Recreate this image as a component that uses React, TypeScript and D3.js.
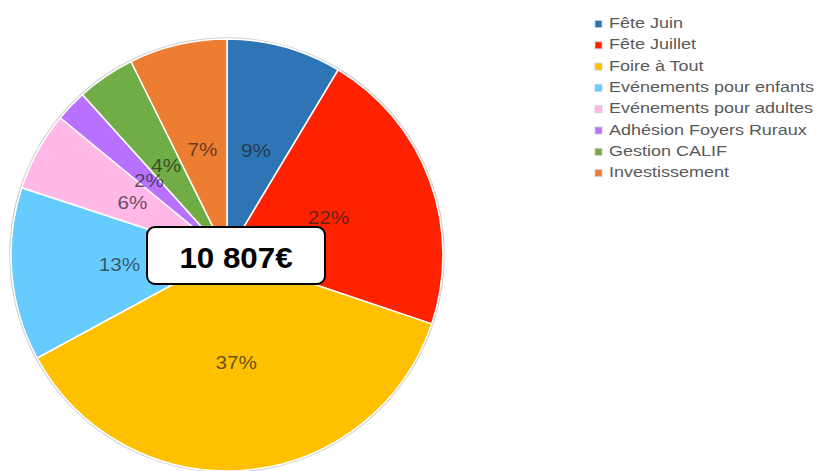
import React from "react";
import * as d3 from "d3";

const categories = [
  "Fête Juin",
  "Fête Juillet",
  "Foire à Tout",
  "Evénements pour enfants",
  "Evénements pour adultes",
  "Adhésion Foyers Ruraux",
  "Gestion CALIF",
  "Investissement",
];
const values = [930, 2330, 3990, 1400, 640, 255, 470, 792];
const colors = ["#2e75b6", "#ff2200", "#ffc000", "#66ccff", "#ffb8e8", "#b870ff", "#70ad47", "#ed7d31"];
const totalLabel = "10 807€";

const W = 819;
const H = 471;
const cx = 227;
const cy = 255;
const R = 216;

export default function App() {
  const total = d3.sum(values);
  const pie = d3.pie<number>().sort(null).value((d) => d);
  const arcs = pie(values);
  const arc = d3.arc<d3.PieArcDatum<number>>().innerRadius(0).outerRadius(R);
  const labelArc = d3.arc<d3.PieArcDatum<number>>().innerRadius(R / 2).outerRadius(R / 2);
  const fmt = (v: number) => `${Math.round((v / total) * 100)}%`;
  const legendX = 595;
  const legendY0 = 28;
  const legendStep = 21.3;

  return (
    <svg
      width={W}
      height={H}
      style={{ position: "absolute", left: 0, top: 0, fontFamily: "Liberation Sans, Arial, sans-serif" }}
    >
      <rect width={W} height={H} fill="#fff" />
      <g transform={`translate(${cx},${cy})`}>
        <circle r={R + 1} fill="none" stroke="#cfcfcf" strokeWidth={1.5} />
        {arcs.map((a, i) => (
          <path key={i} d={arc(a) || ""} fill={colors[i]} stroke="#fff" strokeWidth={1.5} />
        ))}
        {arcs.map((a, i) => {
          const [x, y] = labelArc.centroid(a);
          return (
            <text
              key={"l" + i}
              transform={`translate(${x},${y}) scale(1.15,1)`}
              textAnchor="middle"
              dy="0.36em"
              fontSize={18}
              fill="#222"
              fillOpacity={0.7}
            >
              {fmt(values[i])}
            </text>
          );
        })}
      </g>
      <rect x={147} y={227} width={178} height={57} rx={8} fill="#fff" stroke="#000" strokeWidth={2} />
      <text
        transform={`translate(236,268) scale(1.08,1)`}
        textAnchor="middle"
        fontSize={29}
        fontWeight="bold"
        fill="#000"
      >
        {totalLabel}
      </text>
      <g>
        {categories.map((c, i) => {
          const y = legendY0 + i * legendStep;
          return (
            <g key={"g" + i}>
              <rect x={legendX} y={y - 7.5} width={7} height={7} fill={colors[i]} stroke="#ccc" strokeWidth={0.8} />
              <text transform={`translate(${legendX + 14},${y}) scale(1.2,1)`} fontSize={15} fill="#595959">
                {c}
              </text>
            </g>
          );
        })}
      </g>
    </svg>
  );
}
